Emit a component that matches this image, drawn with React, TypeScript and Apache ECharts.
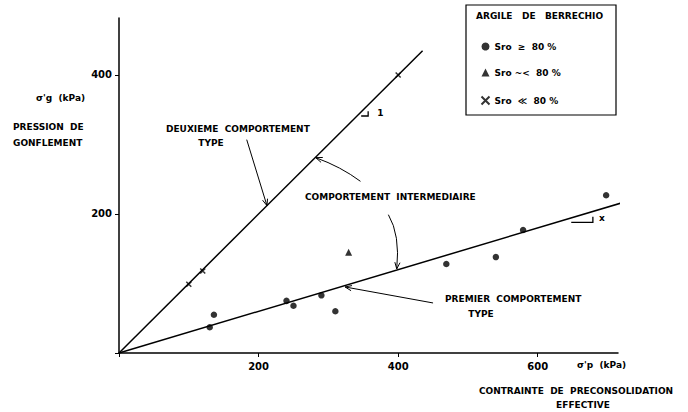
import React, { useEffect, useRef } from "react";
import * as echarts from "echarts";

// σ'p (kPa), σ'g (kPa) pairs — Berrechio clay
const satHigh: number[][] = [
  [130, 37], [136, 55], [240, 75], [250, 68], [290, 83], [310, 60],
  [469, 128], [540, 138], [579, 177], [698, 227],
];
const satMid: number[][] = [[329, 145]];
const satLow: number[][] = [[100, 99], [120, 118], [400, 400]];

// Trend lines through the origin
const type2Line: number[][] = [[0, 0], [435, 435]]; // slope 1
const type1Line: number[][] = [[0, 0], [747, 224]]; // slope ~0.3

const xTickStep = 200;
const yTickStep = 200;

const legendNames = ["Sro  ≥  80 %", "Sro ~<  80 %", "Sro  ≪  80 %"];

const FONT = "DejaVu Sans";
const crossPath = "path://M0,0L10,10M10,0L0,10";

const tickLabel = (v: number) => (v > 0 && v % 200 === 0 ? String(v) : "");

export default function App() {
  const ref = useRef<HTMLDivElement>(null);

  useEffect(() => {
    if (!ref.current) return;
    document.body.style.margin = "0";
    const chart = echarts.init(ref.current, null, { renderer: "svg" });

    const txt = { fontFamily: FONT, color: "#000", fontSize: 9, fontWeight: "bold" as const };

    chart.setOption({
      animation: false,
      backgroundColor: "#fff",
      grid: { left: 119, right: 70, top: 18, bottom: 59, containLabel: false },
      xAxis: {
        type: "value",
        min: 0,
        max: 715,
        interval: xTickStep,
        axisLine: { show: true, lineStyle: { color: "#000", width: 1.5 } },
        axisTick: { show: true, length: 4, lineStyle: { color: "#000" } },
        axisLabel: { ...txt, fontSize: 10, margin: 8, formatter: tickLabel, showMaxLabel: false },
        splitLine: { show: false },
      },
      yAxis: {
        type: "value",
        min: 0,
        max: 482,
        interval: yTickStep,
        axisLine: { show: true, lineStyle: { color: "#000", width: 1.5 } },
        axisTick: { show: true, length: 4, lineStyle: { color: "#000" } },
        axisLabel: { ...txt, fontSize: 10, margin: 7, formatter: tickLabel, showMaxLabel: false },
        splitLine: { show: false },
      },
      legend: {
        orient: "vertical",
        left: 474,
        top: 37,
        itemWidth: 8,
        itemHeight: 8,
        itemGap: 17,
        textStyle: { ...txt, fontSize: 9 },
        data: legendNames,
        selectedMode: false,
      },
      series: [
        {
          type: "line",
          data: type2Line,
          symbol: "none",
          lineStyle: { color: "#000", width: 1.5 },
          clip: false,
          silent: true,
        },
        {
          type: "line",
          data: type1Line,
          symbol: "none",
          lineStyle: { color: "#000", width: 1.5 },
          clip: false,
          silent: true,
        },
        {
          name: legendNames[0],
          type: "scatter",
          data: satHigh,
          symbol: "circle",
          symbolSize: 6.5,
          itemStyle: { color: "#000" },
          clip: false,
        },
        {
          name: legendNames[1],
          type: "scatter",
          data: satMid,
          symbol: "triangle",
          symbolSize: 7,
          itemStyle: { color: "#000" },
          clip: false,
        },
        {
          name: legendNames[2],
          type: "scatter",
          data: satLow,
          symbol: crossPath,
          symbolSize: 5,
          itemStyle: { color: "none", borderColor: "#000", borderWidth: 1.5 },
          clip: false,
        },
      ],
    });

    const p = (x: number, y: number) =>
      chart.convertToPixel({ gridIndex: 0 }, [x, y]) as number[];

    const head = (tip: number[], from: number[]) => {
      const a = Math.atan2(tip[1] - from[1], tip[0] - from[0]);
      const L = 7;
      const s = 0.38;
      return {
        type: "polyline",
        shape: {
          points: [
            [tip[0] - L * Math.cos(a - s), tip[1] - L * Math.sin(a - s)],
            tip,
            [tip[0] - L * Math.cos(a + s), tip[1] - L * Math.sin(a + s)],
          ],
        },
        style: { stroke: "#000", lineWidth: 1, fill: "none" },
      };
    };
    const stroke = { stroke: "#000", lineWidth: 1, fill: "none" };

    // Arrows pointing at the trend lines (data coordinates)
    const a1s = p(183, 307), a1e = p(212, 212);
    const a2s = p(346, 247), a2c = p(318, 268), a2e = p(282, 281);
    const a3s = p(386, 199), a3c = p(403, 170), a3e = p(398, 121);
    const a4s = p(450, 72), a4e = p(324, 95);

    // Slope marks
    const m2a = p(347, 341), m2b = p(357, 341), m2c = p(357, 348);
    const m1a = p(648, 188), m1b = p(679, 188), m1c = p(679, 196);

    const text = (t: string, x: number, y: number, align = "left", size = 9) => ({
      type: "text",
      x,
      y,
      style: {
        text: t,
        fill: "#000",
        font: `bold ${size}px "${FONT}"`,
        textAlign: align,
        textVerticalAlign: "middle",
      },
    });

    chart.setOption({
      graphic: [
        { type: "line", shape: { x1: a1s[0], y1: a1s[1], x2: a1e[0], y2: a1e[1] }, style: stroke },
        head(a1e, a1s),
        {
          type: "bezierCurve",
          shape: { x1: a2s[0], y1: a2s[1], cpx1: a2c[0], cpy1: a2c[1], x2: a2e[0], y2: a2e[1] },
          style: stroke,
        },
        head(a2e, a2c),
        {
          type: "bezierCurve",
          shape: { x1: a3s[0], y1: a3s[1], cpx1: a3c[0], cpy1: a3c[1], x2: a3e[0], y2: a3e[1] },
          style: stroke,
        },
        head(a3e, a3c),
        { type: "line", shape: { x1: a4s[0], y1: a4s[1], x2: a4e[0], y2: a4e[1] }, style: stroke },
        head(a4e, a4s),
        { type: "polyline", shape: { points: [m2a, m2b, m2c] }, style: { ...stroke, lineWidth: 1.3 } },
        text("1", m2b[0] + 9, m2b[1] - 3),
        { type: "polyline", shape: { points: [m1a, m1b, m1c] }, style: { ...stroke, lineWidth: 1.3 } },
        text("x", m1b[0] + 6, m1b[1] - 4),

        // Legend frame and title
        { type: "rect", shape: { x: 466, y: 5, width: 150, height: 110 }, style: { ...stroke, lineWidth: 1.2 } },
        text("ARGILE   DE   BERRECHIO", 476, 16),

        // Axis titles and annotations
        text("σ'g  (kPa)", 36, 98),
        text("PRESSION  DE", 13, 127),
        text("GONFLEMENT", 13, 143),
        text("σ'p  (kPa)", 577, 365),
        text("CONTRAINTE  DE  PRECONSOLIDATION", 576, 391, "center"),
        text("EFFECTIVE", 583, 405, "center"),
        text("DEUXIEME  COMPORTEMENT", 166, 129),
        text("TYPE", 211, 143, "center"),
        text("COMPORTEMENT  INTERMEDIAIRE", 305, 197),
        text("PREMIER  COMPORTEMENT", 445, 299),
        text("TYPE", 481, 314, "center"),
      ],
    });

    return () => chart.dispose();
  }, []);

  return <div ref={ref} style={{ width: 688, height: 412 }} />;
}
